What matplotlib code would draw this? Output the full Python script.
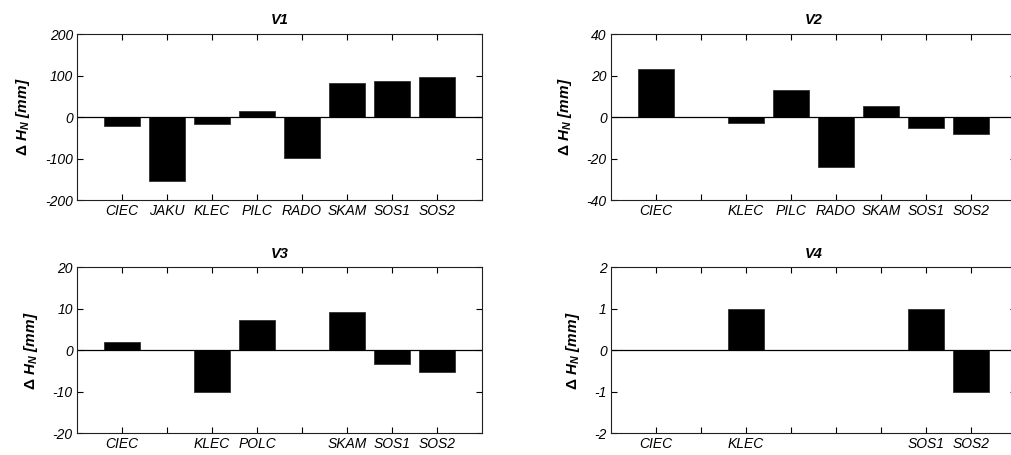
import numpy as np
import matplotlib
matplotlib.use("Agg")
import matplotlib.pyplot as plt

# station labels on each panel ('' = empty slot), and the height change in mm
v1_labels = ["CIEC", "JAKU", "KLEC", "PILC", "RADO", "SKAM", "SOS1", "SOS2"]
v1_values = [-22, -154, -16, 15, -98, 83, 88, 96]

v2_labels = ["CIEC", "", "KLEC", "PILC", "RADO", "SKAM", "SOS1", "SOS2"]
v2_values = [23.3, np.nan, -3, 13.2, -24, 5.3, -5.3, -8.2]

v3_labels = ["CIEC", "", "KLEC", "POLC", "", "SKAM", "SOS1", "SOS2"]
v3_values = [2, np.nan, -10, 7.2, np.nan, 9.2, -3.2, -5.2]

v4_labels = ["CIEC", "", "KLEC", "", "", "", "SOS1", "SOS2"]
v4_values = [0, np.nan, 1, np.nan, np.nan, np.nan, 1, -1]

titles = ["V1", "V2", "V3", "V4"]
ylims = [200, 40, 20, 2]

plt.rcParams['font.family'] = ['Liberation Sans', 'DejaVu Sans']
plt.rcParams['mathtext.fontset'] = 'custom'
plt.rcParams['mathtext.it'] = 'Liberation Sans:italic:bold'
plt.rcParams['mathtext.rm'] = 'Liberation Sans:bold'

fig = plt.figure(figsize=(10.11, 4.55), dpi=100)

# axes boxes in figure fractions: [left, bottom, width, height]
boxes = [[0.0762, 0.5604, 0.4006, 0.3648],
         [0.6044, 0.5604, 0.4006, 0.3648],
         [0.0762, 0.0477, 0.4006, 0.3648],
         [0.6044, 0.0477, 0.4006, 0.3648]]

panels = [(v1_labels, v1_values), (v2_labels, v2_values),
          (v3_labels, v3_values), (v4_labels, v4_values)]

for i in range(4):
    labels, values = panels[i]
    ax = fig.add_axes(boxes[i])
    pos = np.arange(1, len(labels) + 1)
    ax.bar(pos, values, width=0.8, color="black", edgecolor="#303030", linewidth=0.6)
    ax.axhline(0, color="black", lw=0.9)
    ax.set_xlim(0, 9)
    lim = ylims[i]
    ax.set_ylim(-lim, lim)
    ax.set_yticks(np.linspace(-lim, lim, 5))
    ax.set_yticklabels(["%g" % t for t in np.linspace(-lim, lim, 5)])
    ax.set_xticks(pos)
    ax.set_xticklabels(labels)
    ax.tick_params(direction="in", length=4, width=0.8, top=True, right=True,
                   labelsize=10, pad=3)
    for lab in ax.get_xticklabels() + ax.get_yticklabels():
        lab.set_fontstyle("italic")
    for s in ax.spines.values():
        s.set_linewidth(0.8)
        s.set_color("#202020")
    ax.set_title(titles[i], fontsize=10.5, fontweight="bold", style="italic", pad=7)
    ax.set_ylabel(r"$\Delta\ H_N$ [mm]", fontsize=11, fontweight="bold",
                  style="italic", labelpad=9)

fig.savefig("out.png", dpi=100)
